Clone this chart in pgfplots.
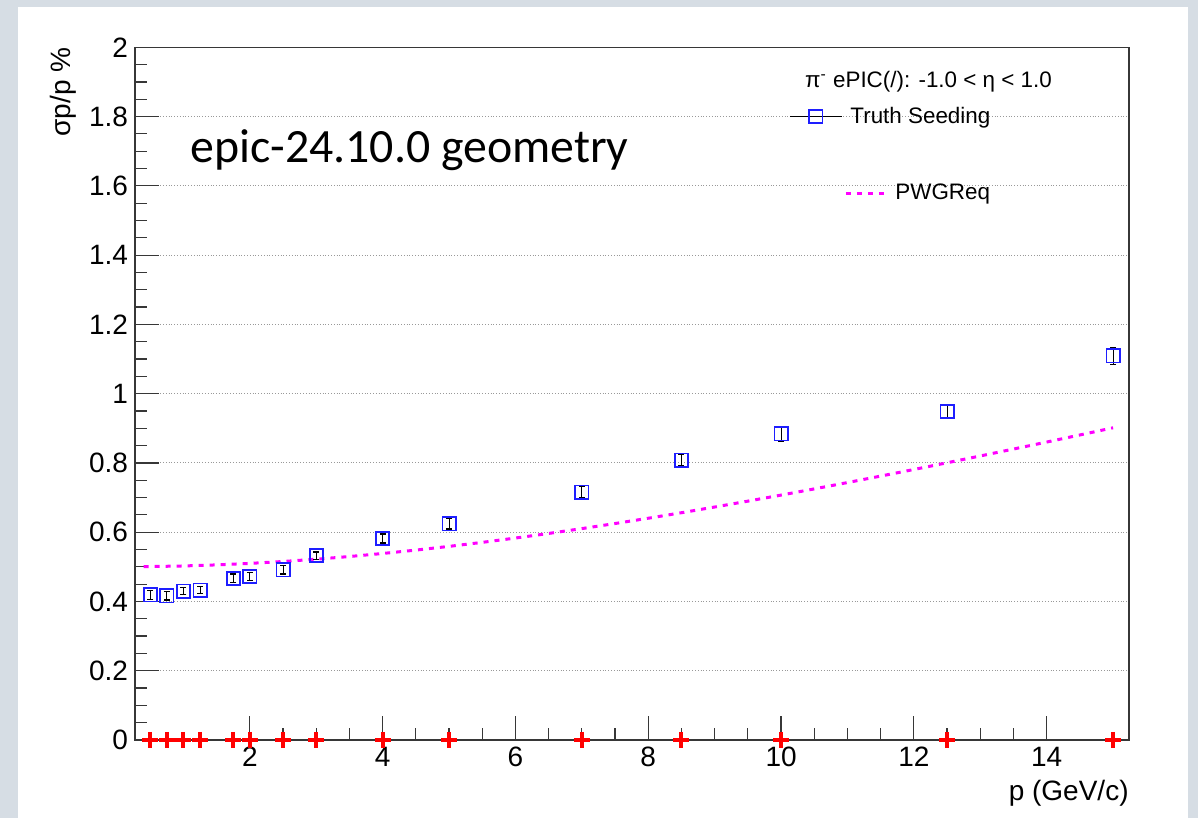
\documentclass[border=0pt]{standalone}
\usepackage{pgfplots}
\pgfplotsset{compat=1.18}
\usepackage{fontspec}
\setmainfont{Liberation Sans}
\newfontfamily\carlito{Carlito}
\definecolor{frameback}{RGB}{214,221,228}
\definecolor{axisgray}{RGB}{55,55,55}
\definecolor{reqmagenta}{RGB}{255,0,255}
\definecolor{seedblue}{RGB}{30,30,255}
\begin{document}
\begin{tikzpicture}
% canvas: grey frame with white pad
\fill[frameback] (-67.5pt,-39pt) rectangle (531.5pt,370pt);
\fill[white] (-58.5pt,-39pt) rectangle (526.5pt,366.5pt);
\useasboundingbox (-67.5pt,-39pt) rectangle (531.5pt,370pt);
\begin{axis}[
  at={(0pt,0pt)}, anchor=south west,
  scale only axis, width=497pt, height=346.35pt,
  xmin=0.27, xmax=15.24, ymin=0, ymax=2,
  xtick={2,4,6,8,10,12,14}, minor x tick num=3,
  ytick={0,0.2,0.4,0.6,0.8,1,1.2,1.4,1.6,1.8,2}, minor y tick num=3,
  tick align=inside, xtick pos=bottom, ytick pos=left,
  major tick length=12pt, minor tick length=6pt,
  tick style={axisgray, line width=0.6pt},
  axis line style={axisgray, line width=0.7pt},
  ymajorgrids, major grid style={densely dotted, gray!80, line width=0.5pt},
  /pgf/number format/assume math mode=true,
  ticklabel style={font=\fontsize{14}{16}\selectfont},
  xlabel={p (GeV/c)},
  xlabel style={at={(axis description cs:1,-0.058)}, anchor=north east, inner sep=0pt, font=\fontsize{14}{16}\selectfont},
  ylabel={σp/p \%},
  ylabel style={at={(axis description cs:-0.0724,1)}, anchor=east, inner sep=0pt, font=\fontsize{14}{16}\selectfont},
  clip=false,
  legend cell align=left,
  legend style={draw=none, fill=none, at={(axis description cs:0.658,0.8445)}, anchor=west,
    inner sep=0pt, row sep=25pt, font=\fontsize{11.2}{13}\selectfont,
    /tikz/every odd column/.append style={column sep=2pt}},
]
% PWG requirement curve
\addplot[reqmagenta, line width=1.5pt, dash pattern=on 2.5pt off 3pt, forget plot] coordinates {
  (0.4,0.5004) (1,0.50249) (1.5,0.50559) (2,0.50990) (2.5,0.51539) (3,0.52202)
  (3.5,0.52974) (4,0.53852) (4.5,0.54830) (5,0.55902) (5.5,0.57064) (6,0.58310)
  (6.5,0.59634) (7,0.61033) (7.5,0.625) (8,0.64031) (8.5,0.65622) (9,0.67268)
  (9.5,0.68965) (10,0.70711) (10.5,0.72500) (11,0.74330) (11.5,0.76199) (12,0.78102)
  (12.5,0.80039) (13,0.82006) (13.5,0.84002) (14,0.86023) (14.5,0.88070) (15,0.90139)
};
% momentum resolution, truth seeding
\addplot[seedblue, only marks, mark=square, mark size=3.3pt, line width=0.9pt, forget plot,
  error bars/.cd, y dir=both, y explicit,
  error bar style={black, line width=0.5pt},
  error mark options={rotate=90, mark size=1.5pt, black, line width=0.6pt}]
  coordinates {
  (0.5,0.419) +- (0,0.013)
  (0.75,0.416) +- (0,0.012)
  (1.0,0.430) +- (0,0.010)
  (1.25,0.433) +- (0,0.010)
  (1.75,0.467) +- (0,0.012)
  (2.0,0.472) +- (0,0.011)
  (2.5,0.491) +- (0,0.012)
  (3.0,0.532) +- (0,0.011)
  (4.0,0.582) +- (0,0.013)
  (5.0,0.624) +- (0,0.015)
  (7.0,0.716) +- (0,0.016)
  (8.5,0.808) +- (0,0.017)
  (10.0,0.8835) +- (0,0.020)
  (12.5,0.949) +- (0,0.020)
  (15.0,1.109) +- (0,0.025)
};
% bin positions on the axis
\addplot[red, only marks, mark=+, mark size=4pt, line width=2pt, forget plot] coordinates {
  (0.5,0) (0.75,0) (1.0,0) (1.25,0) (1.75,0) (2.0,0) (2.5,0) (3.0,0)
  (4.0,0) (5.0,0) (7.0,0) (8.5,0) (10.0,0) (12.5,0) (15.0,0)
};
\addlegendimage{legend image code/.code={
  \draw[black, line width=0.5pt] (0pt,0pt) -- (26pt,0pt);
  \draw[seedblue, line width=0.9pt, mark=square, mark size=3.3pt] plot coordinates {(13pt,0pt)};}}
\addlegendentry{Truth Seeding}
\addlegendimage{legend image code/.code={
  \path[draw=none] (0pt,0pt) -- (26pt,0pt);
  \draw[overlay, reqmagenta, line width=1.5pt, dash pattern=on 2.5pt off 3pt] (28pt,0pt) -- (47pt,0pt);}}
\addlegendentry{\hspace{22.5pt}PWGReq}
\node[font=\fontsize{11.2}{13}\selectfont, inner sep=0pt] at (axis description cs:0.7983,0.950)
  {π\textsuperscript{-} ePIC(/): -1.0 < η < 1.0};
\node[font=\carlito\fontsize{23.9}{28}\selectfont, anchor=base west, inner sep=0pt]
  at (axis description cs:0.0553,0.833) {epic-24.10.0 geometry};
\end{axis}
\end{tikzpicture}
\end{document}
